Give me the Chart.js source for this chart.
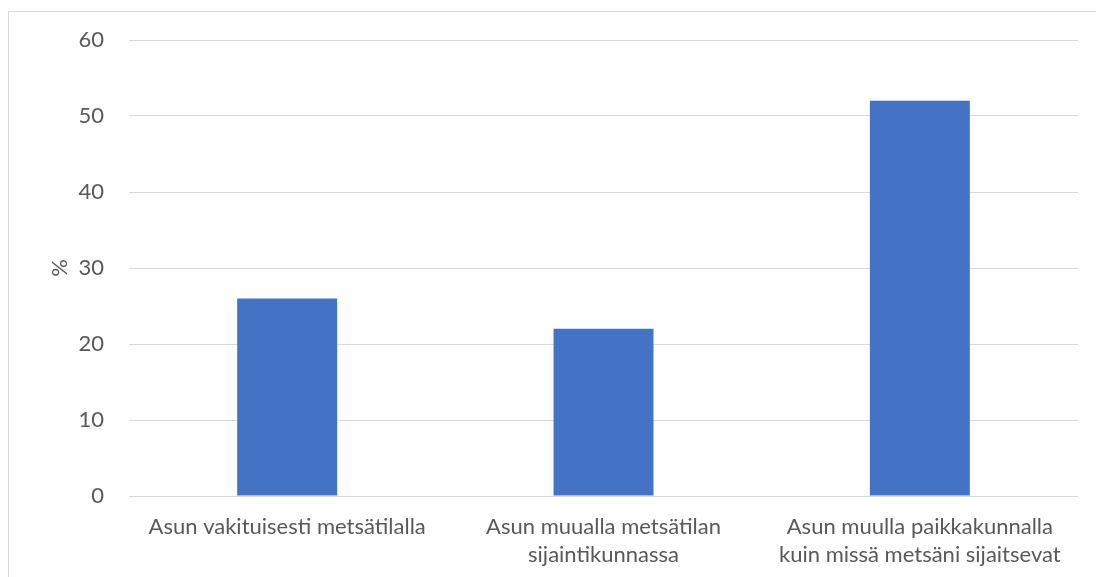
<!DOCTYPE html>
<html><head><meta charset="utf-8">
<script src="https://cdn.jsdelivr.net/npm/chart.js@4"></script>
<style>
html,body{margin:0;padding:0;background:#fff;overflow:hidden;}
#frame{position:absolute;left:8px;top:11px;width:1200px;height:700px;border:1px solid #d9d9d9;box-sizing:border-box;}
#wrap{position:absolute;left:0;top:0;width:1096px;height:577px;}
</style></head><body>
<div id="frame"></div>
<div id="wrap"><canvas id="c" width="1096" height="577"></canvas></div>
<script>
const categories = [
  ["Asun vakituisesti metsätilalla"],
  ["Asun muualla metsätilan", "sijaintikunnassa"],
  ["Asun muulla paikkakunnalla", "kuin missä metsäni sijaitsevat"]
];
const values = [26, 22, 52];
const yTicks = [0, 10, 20, 30, 40, 50, 60];
const yTitle = "%";

const font = "Lato, Open Sans, sans-serif";
new Chart(document.getElementById('c'), {
  type: 'bar',
  data: {
    labels: categories,
    datasets: [{ data: values, backgroundColor: '#4472c4', borderWidth: 0,
      categoryPercentage: 1, barPercentage: 0.316 }]
  },
  options: {
    responsive: false, animation: false,
    layout: { padding: { left: 0, right: 18, top: 40, bottom: 0 } },
    plugins: { legend: { display: false }, tooltip: { enabled: false } },
    scales: {
      x: {
        grid: { display: false, drawTicks: false }, border: { display: false },
        ticks: { color: '#595959', font: { family: font, size: 22, lineHeight: 1.27 }, padding: 17, maxRotation: 0 },
        afterFit: s => { s.height = 81; }
      },
      y: {
        min: 0, max: 60,
        afterBuildTicks: s => { s.ticks = yTicks.map(v => ({ value: v })); },
        grid: { color: '#d9d9d9', lineWidth: 1, drawTicks: false }, border: { display: false },
        ticks: { color: '#595959', font: { family: font, size: 22 }, padding: 25 },
        title: { display: true, text: yTitle, color: '#595959', font: { family: font, size: 22, lineHeight: 1.2 }, padding: { top: 47, bottom: 0 } },
        afterFit: s => { s.width = 129; }
      }
    }
  }
});
</script>
</body></html>
